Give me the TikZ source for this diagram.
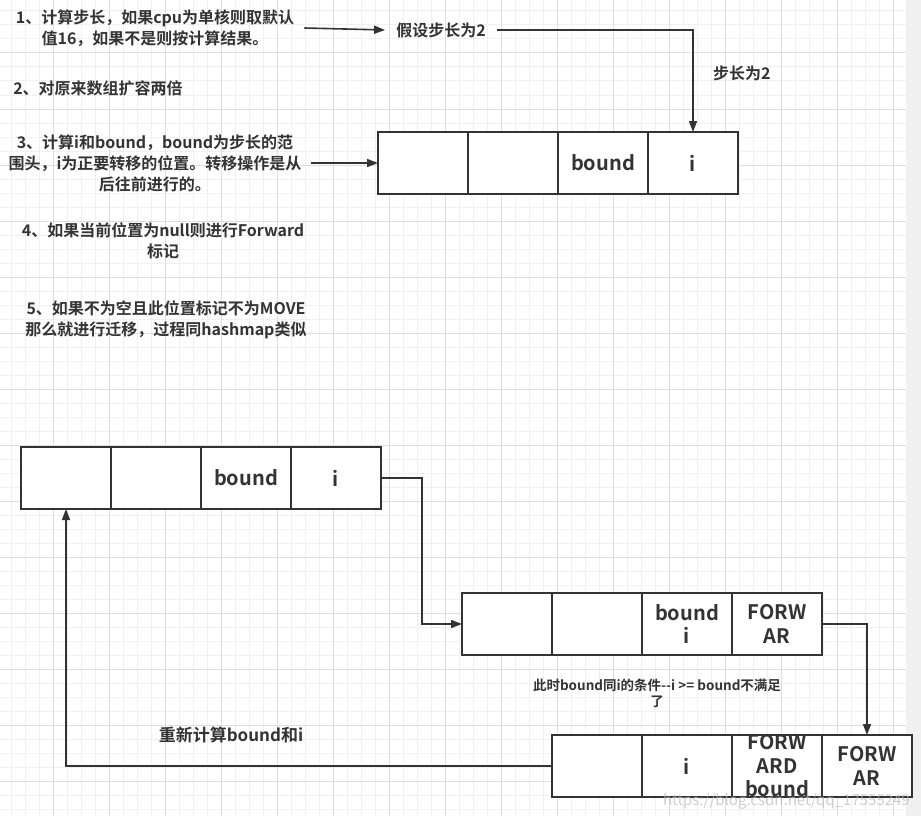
\documentclass[tikz,border=0pt]{standalone}
\usepackage{fontspec}
\setmainfont{Noto Sans CJK SC}[BoldFont={Noto Sans CJK SC Bold}]
\usetikzlibrary{positioning,arrows.meta}
\definecolor{DiagramInk}{RGB}{51,51,51}
\definecolor{GridMinor}{RGB}{240,240,240}
\definecolor{GridMajor}{RGB}{222,222,222}
\definecolor{SideBand}{RGB}{240,240,240}

\begin{document}
\begin{tikzpicture}[x=1pt,y=-1pt,
  cell/.style={draw=DiagramInk,fill=white,line width=1.6pt,minimum width=90pt,minimum height=62pt,inner sep=0pt,outer sep=0pt,text=DiagramInk,font=\bfseries\fontsize{20}{23.5}\selectfont,align=center},
  celltext/.style={text=DiagramInk,font=\bfseries\fontsize{20}{23.5}\selectfont,align=center,inner sep=0pt},
  note/.style={text=DiagramInk,font=\bfseries\fontsize{16}{21}\selectfont,align=center,inner sep=0pt},
  link/.style={draw=DiagramInk,line width=1.6pt,-{Triangle[length=11pt,width=8pt]}}]
\useasboundingbox (0,0) rectangle (921,816);
\fill[SideBand] (906,0) rectangle (921,816);
% background grid
\foreach \k in {0,...,64} {
  \draw[GridMinor,line width=1pt] (11+14*\k,0) -- (11+14*\k,816);
}
\foreach \k in {0,...,57} {
  \draw[GridMinor,line width=1pt] (0,11+14*\k) -- (906,11+14*\k);
}
\foreach \k in {0,...,15} {
  \draw[GridMajor,line width=1pt] (53+56*\k,0) -- (53+56*\k,816);
}
\foreach \k in {0,...,13} {
  \draw[GridMajor,line width=1pt] (0,53+56*\k) -- (906,53+56*\k);
}

% steps on the left
\node[note] (t1) at (155,28) {1、计算步长，如果cpu为单核则取默认\\值16，如果不是则按计算结果。};
\node[note] (t2) at (98,88) {2、对原来数组扩容两倍};
\node[note] (t3) at (155,163) {3、计算i和bound，bound为步长的范\\围头，i为正要转移的位置。转移操作是从\\后往前进行的。};
\node[note] (t4) at (163,241) {4、如果当前位置为null则进行Forward\\标记};
\node[note] (t5) at (166,320) {5、如果不为空且此位置标记不为MOVE\\那么就进行迁移，过程同hashmap类似};
\node[note] (h1) at (441,30) {假设步长为2};
\node[note,anchor=west] (steplbl) at (713,73) {步长为2};

% first table
\node[cell] (a1) at (423,163) {};
\node[cell,right=0pt of a1] (a2) {};
\node[cell,right=0pt of a2] (a3) {bound};
\node[cell,right=0pt of a3] (a4) {i};

% second table
\node[cell] (b1) at (66,478) {};
\node[cell,right=0pt of b1] (b2) {};
\node[cell,right=0pt of b2] (b3) {bound};
\node[cell,right=0pt of b3] (b4) {i};

% third table
\node[cell] (c1) at (507,624) {};
\node[cell,right=0pt of c1] (c2) {};
\node[cell,right=0pt of c2] (c3) {bound\\i};
\node[cell,right=0pt of c3] (c4) {FORW\\AR};

% fourth table
\node[cell] (d1) at (597,766) {};
\node[cell,right=0pt of d1] (d2) {i};
\node[cell,right=0pt of d2] (d3) {};
\node[cell,right=0pt of d3] (d4) {FORW\\AR};
\node[celltext] (d3txt) at (d3) {FORW\\ARD\\bound};

\node[note,font=\bfseries\fontsize{13.5}{16}\selectfont] (cond) at (657,693) {此时bound同i的条件-{}-i >= bound不满足\\了};
\node[note,font=\bfseries\fontsize{17}{21}\selectfont] (recalc) at (231,735) {重新计算bound和i};

% arrows
\draw[link] ([xshift=10pt]t1.east) -- ([xshift=-11pt]h1.west);
\draw[link] ([xshift=11pt]h1.east) -| (a4.north);
\draw[link] ([xshift=9pt]t3.east) -- (a1.west);
\draw[link] (b4.east) -- ++(41,0) |- (c1.west);
\draw[link] (c4.east) -| (d4.north);
\draw[link] (d1.west) -| (b1.south);

\node[text=gray!55,opacity=0.7,font=\fontsize{15}{15}\selectfont,anchor=east,inner sep=0pt] (mark) at (910,801) {https://blog.csdn.net/qq\_17555249};
\end{tikzpicture}
\end{document}
